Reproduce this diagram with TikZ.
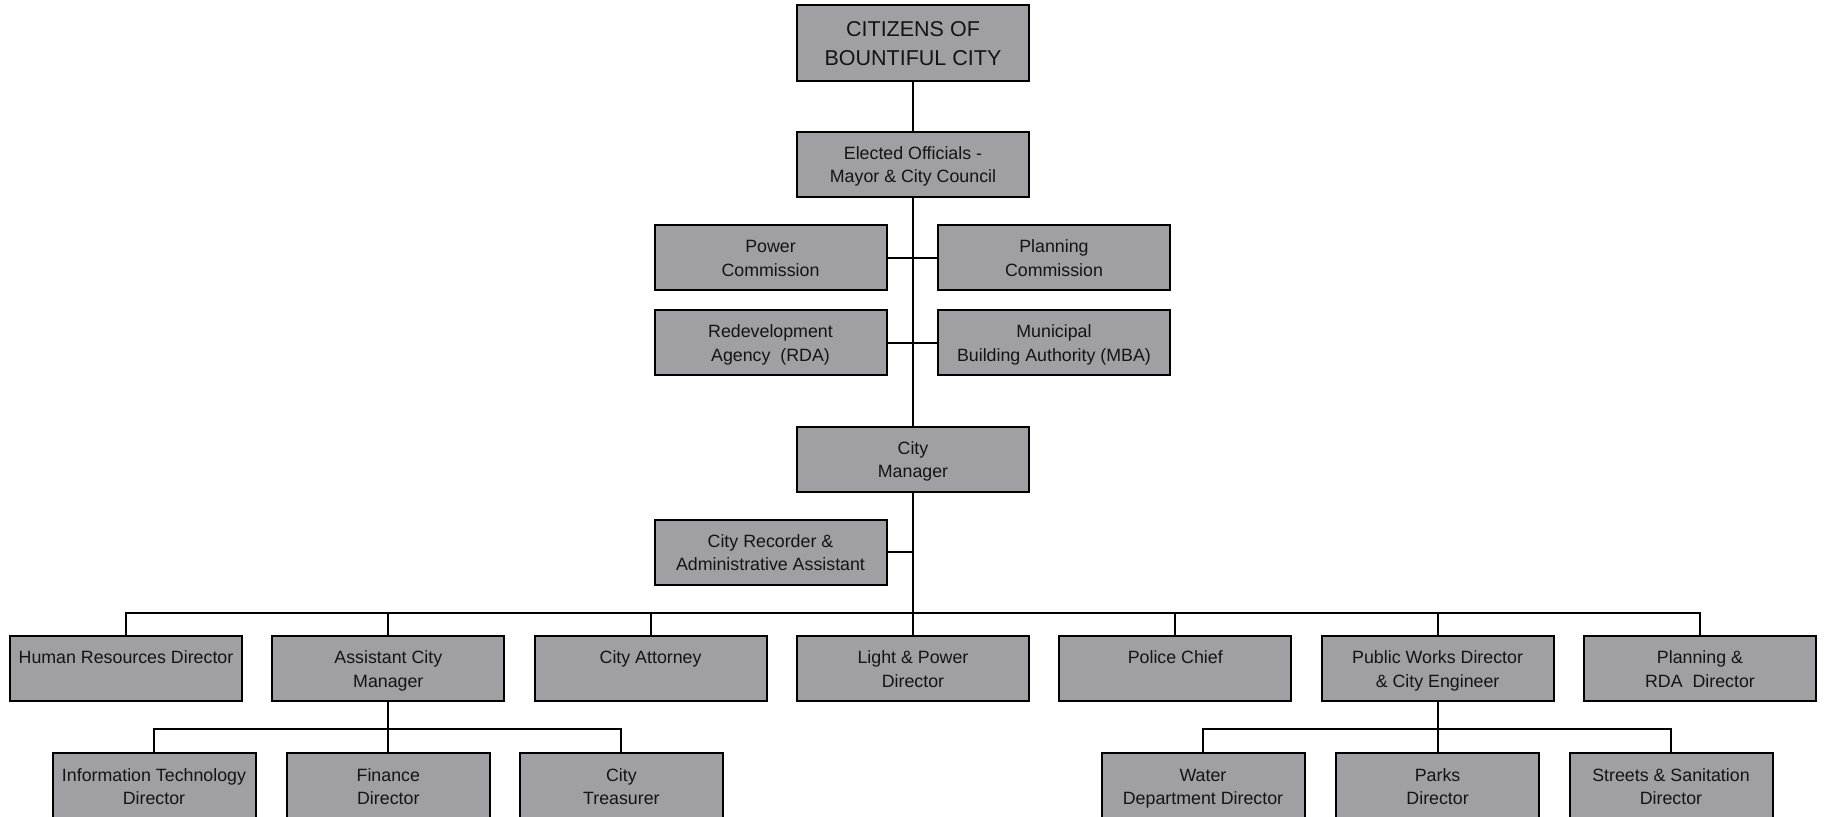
\documentclass[tikz,border=0pt]{standalone}
\usepackage{fontspec}
\setmainfont{Liberation Sans}
\definecolor{boxgray}{RGB}{160,159,164}
\definecolor{txt}{RGB}{20,20,20}
\newcommand{\twol}[2]{\rule{0pt}{\dimexpr\ht\strutbox+2pt\relax}#1\\\strut #2}
\begin{document}
\begin{tikzpicture}[x=0.5pt,y=-0.5pt,
  box/.style={draw=black,line width=1pt,fill=boxgray,text=txt,align=center,inner sep=0pt,
    font=\fontsize{8.9pt}{11.7pt}\selectfont},
  big/.style={box,font=\fontsize{10.75pt}{14.5pt}\selectfont},
  wA/.style={minimum width=116pt,minimum height=32.5pt},
  wB/.style={minimum width=101.5pt,minimum height=33.5pt},
  conn/.style={draw=black,line width=1pt}]
\useasboundingbox (0,0) rectangle (1828,817);
\clip (0,0) rectangle (1828,817);
% top
\node[big,minimum width=116pt,minimum height=38pt] (cit) at (913,43) {\twol{CITIZENS OF}{BOUNTIFUL CITY}};
\node[box,wA] (elect) at (913,164.5) {\twol{Elected Officials -}{Mayor \& City Council}};
\node[box,wA] (power) at (770.5,258) {\twol{Power}{Commission}};
\node[box,wA] (plancom) at (1054,258) {\twol{Planning}{Commission}};
\node[box,wA] (rda) at (770.5,343) {\twol{Redevelopment}{Agency\ \ (RDA)}};
\node[box,wA] (mba) at (1054,343) {\twol{Municipal}{Building Authority (MBA)}};
\node[box,wA] (cm) at (913,459.5) {\twol{City}{Manager}};
\node[box,wA] (rec) at (770.5,552.5) {\twol{City Recorder \&}{Administrative Assistant}};
% row 1
\node[box,wA] (hr) at (126,669) {\twol{Human Resources Director}{}};
\node[box,wA] (acm) at (388.3,669) {\twol{Assistant City}{Manager}};
\node[box,wA] (att) at (650.6,669) {\twol{City Attorney}{}};
\node[box,wA] (lp) at (913,669) {\twol{Light \& Power}{Director}};
\node[box,wA] (pol) at (1175.3,669) {\twol{Police Chief}{}};
\node[box,wA] (pw) at (1437.6,669) {\twol{Public Works Director}{\& City Engineer}};
\node[box,wA] (prda) at (1700,669) {\twol{Planning \&}{RDA\ \ Director}};
% row 2
\node[box,wB] (it) at (154,786.5) {\twol{Information Technology}{Director}};
\node[box,wB] (fin) at (388.3,786.5) {\twol{Finance}{Director}};
\node[box,wB] (tr) at (621.4,786.5) {\twol{City}{Treasurer}};
\node[box,wB] (wat) at (1203,786.5) {\twol{Water}{Department Director}};
\node[box,wB] (park) at (1437.6,786.5) {\twol{Parks}{Director}};
\node[box,wB] (str) at (1671,786.5) {\twol{Streets \& Sanitation}{Director}};
% connectors
\coordinate (bus) at (913,613.5);
\coordinate (sbA) at (388.3,729);
\coordinate (sbB) at (1437.6,729);
\draw[conn] (cit.south) -- (elect.north);
\draw[conn] (elect.south) -- (cm.north);
\draw[conn] (power.east) -- (plancom.west);
\draw[conn] (rda.east) -- (mba.west);
\draw[conn] (cm.south) -- (lp.north);
\draw[conn] (rec.east) -- (rec.east -| cm.south);
\draw[conn] (hr.north) |- (bus) -| (prda.north);
\foreach \n in {acm,att,pol,pw} \draw[conn] (\n.north) -- (\n.north |- bus);
\draw[conn] (it.north) |- (sbA) -| (tr.north);
\draw[conn] (acm.south) -- (fin.north);
\draw[conn] (wat.north) |- (sbB) -| (str.north);
\draw[conn] (pw.south) -- (park.north);
\end{tikzpicture}
\end{document}
